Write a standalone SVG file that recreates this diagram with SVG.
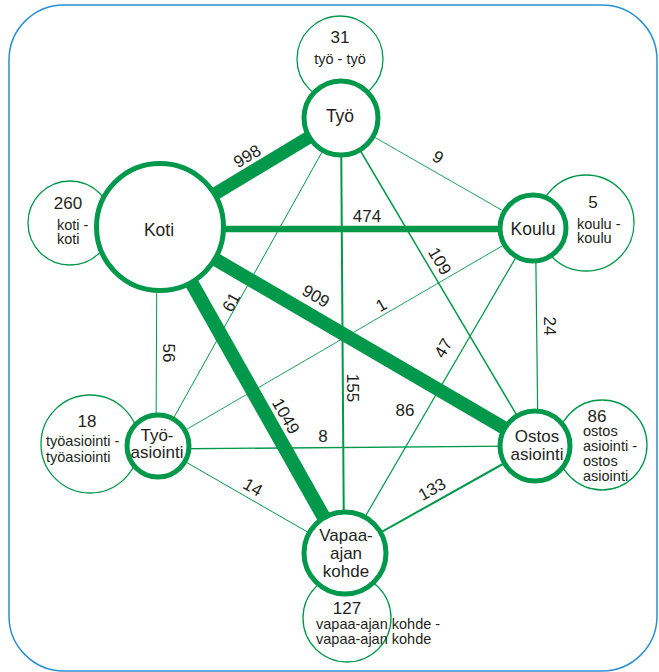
<svg xmlns="http://www.w3.org/2000/svg" width="659" height="672" viewBox="0 0 659 672">
<style>
.edge{stroke:#00984a;fill:none}
.main{fill:#fff;stroke:#00984a;stroke-width:5}
.self{fill:#fff;stroke:#00984a;stroke-width:1.3}
text{font-family:"Liberation Sans",Arial,sans-serif;fill:#231f20}
.lbl{font-size:17px;text-anchor:middle}
.nt{font-size:17.5px;text-anchor:middle}
.nt2{font-size:17px;text-anchor:middle}
.num{font-size:17px;text-anchor:middle}
.st{font-size:14.5px}
</style>
<rect x="9" y="5" width="648" height="666" rx="55" ry="55" fill="#fff" stroke="#2a8fd4" stroke-width="1.5"/>
<g id="connectors">
<line class="edge" x1="341" y1="118" x2="160" y2="227" stroke-width="13"/>
<line class="edge" x1="341" y1="118" x2="533" y2="228" stroke-width="0.9"/>
<line class="edge" x1="341" y1="118" x2="158" y2="446" stroke-width="1"/>
<line class="edge" x1="341" y1="118" x2="344" y2="553" stroke-width="2"/>
<line class="edge" x1="341" y1="118" x2="535" y2="446" stroke-width="1.5"/>
<line class="edge" x1="160" y1="229" x2="533" y2="229" stroke-width="6.5"/>
<line class="edge" x1="160" y1="227" x2="535" y2="446" stroke-width="13.5"/>
<line class="edge" x1="160" y1="227" x2="344" y2="553" stroke-width="14"/>
<line class="edge" x1="157" y1="227" x2="156" y2="446" stroke-width="1"/>
<line class="edge" x1="535.5" y1="230" x2="538" y2="440" stroke-width="1.2"/>
<line class="edge" x1="533" y1="228" x2="158" y2="446" stroke-width="0.9"/>
<line class="edge" x1="533" y1="228" x2="344" y2="553" stroke-width="1.2"/>
<line class="edge" x1="158" y1="449" x2="535" y2="446" stroke-width="1.3"/>
<line class="edge" x1="158" y1="446" x2="344" y2="553" stroke-width="1"/>
<line class="edge" x1="535" y1="446" x2="344" y2="553" stroke-width="2"/>
<g class="lbl">
<text transform="translate(247,156) rotate(-31)" y="6">998</text>
<text transform="translate(438,157) rotate(30)" y="6">9</text>
<text x="367" y="222">474</text>
<text transform="translate(440,261) rotate(59)" y="6">109</text>
<text transform="translate(316,296) rotate(30)" y="6">909</text>
<text transform="translate(381,305) rotate(-30)" y="6">1</text>
<text transform="translate(550,326) rotate(90)" y="6">24</text>
<text transform="translate(231,302) rotate(-61)" y="6">61</text>
<text transform="translate(169,353) rotate(90)" y="6">56</text>
<text transform="translate(443,348) rotate(-60)" y="6">47</text>
<text transform="translate(353,388) rotate(90)" y="6">155</text>
<text x="405" y="416">86</text>
<text transform="translate(286,416) rotate(60.6)" y="6">1049</text>
<text x="323" y="442">8</text>
<text transform="translate(253,487) rotate(30)" y="6">14</text>
<text transform="translate(432,489) rotate(-29.5)" y="6">133</text>
</g>
</g>
<g id="tyo">
<circle class="self" cx="340" cy="59" r="43"/>
<text class="num" x="340" y="43">31</text>
<text class="st" x="340" y="64" text-anchor="middle">työ - työ</text>
<circle class="main" cx="341" cy="118" r="37" stroke-width="6"/>
<text class="nt" x="340" y="122">Työ</text>
</g>
<g id="koti">
<circle class="self" cx="70" cy="223" r="42"/>
<text class="num" x="68" y="209">260</text>
<text class="st" x="57" y="230">koti -</text>
<text class="st" x="57" y="244">koti</text>
<circle class="main" cx="160" cy="227" r="63.5"/>
<text class="nt" x="159" y="236">Koti</text>
</g>
<g id="koulu">
<circle class="self" cx="586" cy="223" r="48"/>
<text class="num" x="593" y="208">5</text>
<text class="st" x="577" y="229">koulu -</text>
<text class="st" x="577" y="243">koulu</text>
<circle class="main" cx="533" cy="228" r="33"/>
<text class="nt" x="533" y="235">Koulu</text>
</g>
<g id="tyoasiointi">
<circle class="self" cx="90" cy="444" r="49"/>
<text class="num" x="87" y="427">18</text>
<text class="st" x="46" y="446">työasiointi -</text>
<text class="st" x="46" y="462">työasiointi</text>
<circle class="main" cx="158" cy="446" r="31"/>
<text class="nt2" x="157" y="441">Työ-</text>
<text class="nt2" x="157" y="458">asiointi</text>
</g>
<g id="ostos">
<circle class="self" cx="602" cy="445" r="45"/>
<text class="num" x="597" y="422">86</text>
<text class="st" x="583" y="436">ostos</text>
<text class="st" x="583" y="451">asiointi -</text>
<text class="st" x="583" y="466">ostos</text>
<text class="st" x="583" y="481">asiointi</text>
<circle class="main" cx="535" cy="446" r="35"/>
<text class="nt2" x="537" y="442">Ostos</text>
<text class="nt2" x="537" y="460">asiointi</text>
</g>
<g id="vapaa">
<circle class="self" cx="347" cy="618" r="44"/>
<text class="num" x="347" y="614">127</text>
<text class="st" x="316" y="629">vapaa-ajan kohde -</text>
<text class="st" x="316" y="644">vapaa-ajan kohde</text>
<circle class="main" cx="345" cy="553" r="41" stroke-width="6"/>
<text class="nt2" x="346" y="541">Vapaa-</text>
<text class="nt2" x="346" y="559">ajan</text>
<text class="nt2" x="346" y="577">kohde</text>
</g>
</svg>
